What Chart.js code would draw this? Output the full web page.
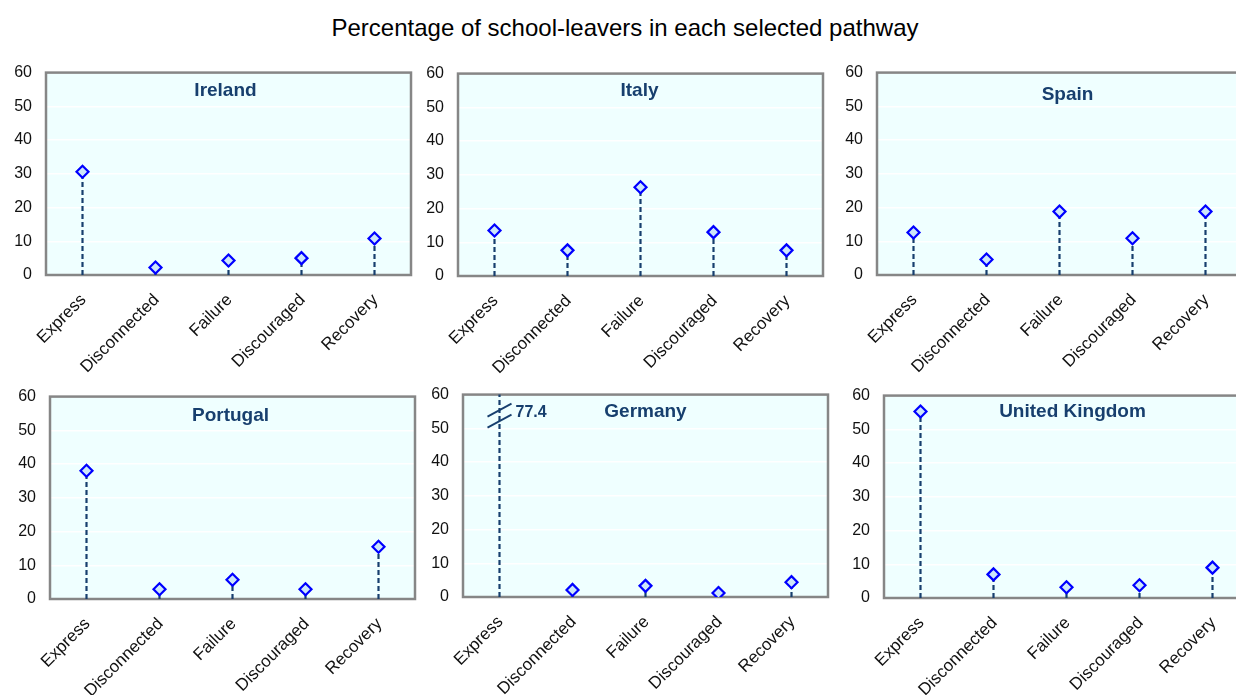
<!DOCTYPE html>
<html>
<head>
<meta charset="utf-8">
<script src="https://cdn.jsdelivr.net/npm/chart.js@4.4.0/dist/chart.umd.min.js"></script>
<style>
  html, body { margin: 0; padding: 0; background: #ffffff; overflow: hidden; width: 1236px; height: 695px; }
  #title { position: absolute; left: 0; width: 1250px; top: 14px; line-height: 28px; text-align: center;
           font-family: 'Liberation Sans', Arial, sans-serif; font-size: 24px; color: #000; }
  canvas { position: absolute; }
</style>
</head>
<body>
<div id="title">Percentage of school-leavers in each selected pathway</div>
<canvas id="c0"></canvas>
<canvas id="c1"></canvas>
<canvas id="c2"></canvas>
<canvas id="c3"></canvas>
<canvas id="c4"></canvas>
<canvas id="c5"></canvas>
<script>
// ---------- DATA ----------
const categories = ['Express', 'Disconnected', 'Failure', 'Discouraged', 'Recovery'];
const countries = ['Ireland', 'Italy', 'Spain', 'Portugal', 'Germany', 'United Kingdom'];
const ireland = [30.6, 2.2, 4.3, 5.0, 10.8];
const italy = [13.5, 7.6, 26.3, 13.0, 7.6];
const spain = [12.6, 4.6, 18.8, 10.9, 18.8];
const portugal = [38.0, 2.9, 5.7, 2.9, 15.5];
const germany = [77.4, 2.1, 3.3, 1.2, 4.4];
const unitedKingdom = [55.3, 7.0, 3.2, 3.8, 9.0];
const yMin = 0, yMax = 60, yStep = 10;
const seriesByCountry = [ireland, italy, spain, portugal, germany, unitedKingdom];

// ---------- LAYOUT / STYLE ----------
const FONT = "'Liberation Sans', Arial, sans-serif";
const NAVY = '#173F6E';
const PLOT_W = 365, PLOT_H = 202;
const AXIS_W = 46, X_AXIS_H = 104, PAD_TOP = 14, PAD_RIGHT = 10;
const panels = [
  { left: 46,  top: 73,  tdx: -3, tdy: 18 },
  { left: 458, top: 74,  tdx: -1, tdy: 17 },
  { left: 877, top: 73,  tdx: 8,  tdy: 22 },
  { left: 50,  top: 397, tdx: -2, tdy: 19 },
  { left: 463, top: 395, tdx: 0,  tdy: 17 },
  { left: 884, top: 396, tdx: 6,  tdy: 16 }
];

const bgPlugin = {
  id: 'plotBg',
  beforeDraw(chart) {
    const a = chart.chartArea, ctx = chart.ctx;
    ctx.save();
    ctx.fillStyle = '#EFFFFF';
    ctx.fillRect(a.left, a.top, a.right - a.left, a.bottom - a.top);
    ctx.restore();
  },
  beforeDatasetsDraw(chart) {
    const a = chart.chartArea, ctx = chart.ctx;
    ctx.save();
    ctx.strokeStyle = '#868686';
    ctx.lineWidth = 2.5;
    ctx.strokeRect(a.left, a.top, a.right - a.left, a.bottom - a.top);
    ctx.restore();
  }
};

const panelTitlePlugin = {
  id: 'panelTitle',
  afterDraw(chart, args, opts) {
    const a = chart.chartArea, ctx = chart.ctx;
    ctx.save();
    ctx.font = 'bold 19px ' + FONT;
    ctx.fillStyle = NAVY;
    ctx.textAlign = 'center';
    ctx.textBaseline = 'middle';
    ctx.fillText(opts.text, (a.left + a.right) / 2 + (opts.dx || 0), a.top + (opts.dy || 17));
    // axis break marks for values beyond the axis maximum
    const xs = chart.scales.x;
    opts.values.forEach((v, i) => {
      if (v > yMax) {
        const x = xs.getPixelForValue(i);
        const yc = a.top + 21;
        ctx.strokeStyle = NAVY;
        ctx.lineWidth = 1.8;
        [-5.5, 5.5].forEach(d => {
          ctx.beginPath();
          ctx.moveTo(x - 12, yc + d + 6.5);
          ctx.lineTo(x + 12, yc + d - 6.5);
          ctx.stroke();
        });
        ctx.font = 'bold 16px ' + FONT;
        ctx.textAlign = 'left';
        ctx.fillText(v.toFixed(1), x + 16, a.top + 18);
      }
    });
    ctx.restore();
  }
};

function buildConfig(idx) {
  const p = panels[idx];
  const values = seriesByCountry[idx];
  const stems = categories.map((c, i) => ({
    type: 'line',
    data: [{ x: c, y: 0 }, { x: c, y: values[i] }],
    borderColor: NAVY,
    borderWidth: 2.2,
    borderDash: [5, 3],
    pointRadius: 0,
    fill: false
  }));
  const markers = {
    type: 'line',
    data: values,
    showLine: false,
    pointStyle: 'rectRot',
    pointRadius: 6,
    pointBorderWidth: 2.2,
    pointBorderColor: '#0000FF',
    pointBackgroundColor: '#CDE6FA'
  };
  return {
    type: 'line',
    data: { labels: categories, datasets: [markers].concat(stems) },
    options: {
      responsive: false,
      maintainAspectRatio: false,
      animation: false,
      devicePixelRatio: 1,
      layout: { padding: { top: PAD_TOP, right: PAD_RIGHT, left: 0, bottom: 0 } },
      plugins: {
        legend: { display: false },
        tooltip: { enabled: false },
        panelTitle: { text: countries[idx], dx: p.tdx, dy: p.tdy, values: values }
      },
      scales: {
        x: {
          type: 'category',
          offset: true,
          grid: { display: false, drawTicks: false },
          border: { display: false },
          afterFit(s) { s.height = X_AXIS_H; },
          ticks: {
            autoSkip: false, minRotation: 45, maxRotation: 45, padding: 15, labelOffset: 1,
            color: '#111', font: { family: FONT, size: 17 }
          }
        },
        y: {
          min: yMin, max: yMax,
          grid: { color: '#FFFFFF', lineWidth: 1.5, drawTicks: false },
          border: { display: false },
          afterFit(s) { s.width = AXIS_W; },
          ticks: {
            stepSize: yStep, padding: 14,
            color: '#111', font: { family: FONT, size: 16 }
          }
        }
      }
    },
    plugins: [bgPlugin, panelTitlePlugin]
  };
}

function makeChart(idx) {
  const p = panels[idx];
  const cv = document.getElementById('c' + idx);
  let W = AXIS_W + PLOT_W + PAD_RIGHT, H = PAD_TOP + PLOT_H + X_AXIS_H;
  let chart = null;
  for (let iter = 0; iter < 3; iter++) {
    cv.width = W; cv.height = H;
    cv.style.width = W + 'px'; cv.style.height = H + 'px';
    chart = new Chart(cv, buildConfig(idx));
    const a = chart.chartArea;
    const dw = PLOT_W - Math.round(a.right - a.left);
    const dh = PLOT_H - Math.round(a.bottom - a.top);
    if (dw === 0 && dh === 0) break;
    chart.destroy();
    W += dw; H += dh;
  }
  const a = chart.chartArea;
  cv.style.left = (p.left - a.left) + 'px';
  cv.style.top = (p.top - a.top) + 'px';
}

for (let i = 0; i < 6; i++) makeChart(i);
</script>
</body>
</html>
